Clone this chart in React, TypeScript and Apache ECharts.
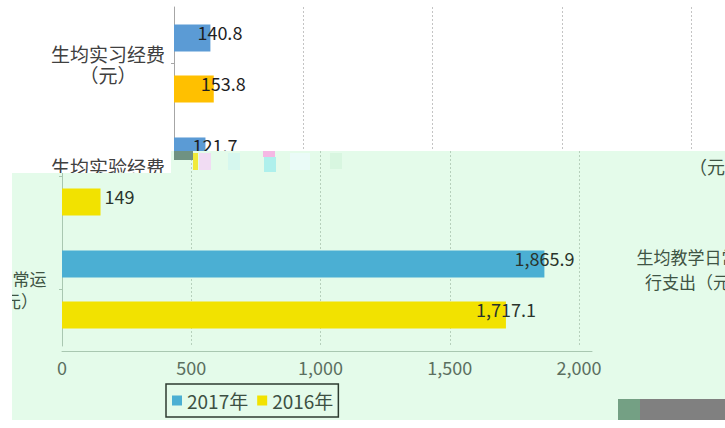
import React, { useEffect, useRef } from 'react';
import * as echarts from 'echarts';

const categories = ['生均实习经费\n（元）', '生均实验经费\n（元）', '生均教学日常运\n行支出（元）'];
const seriesNames = ['2017年', '2016年'];
const values2017 = [140.8, 121.7, 1865.9];
const values2016 = [153.8, 149, 1717.1];
const axisMax = 2050;
const axisInterval = 500;

const FONT = '"Noto Sans CJK SC", "Noto Sans", sans-serif';
const GREEN_BG = '#e4fbea';

const fmt = (v: number) => v.toLocaleString('en-US', { maximumFractionDigits: 1 });

function baseOption(left: number, colors: string[], txt: any) {
  return {
    animation: false,
    textStyle: { fontFamily: FONT },
    grid: { left, top: 7, width: 530, height: 339, containLabel: false, outerBoundsMode: 'none' },
    xAxis: {
      type: 'value',
      min: 0,
      max: axisMax,
      interval: axisInterval,
      offset: 5,
      axisLine: { show: true, lineStyle: { color: txt.axis, width: 1 } },
      axisTick: { show: false },
      axisLabel: {
        showMaxLabel: false,
        margin: 7,
        fontSize: 18,
        fontFamily: FONT,
        color: txt.tick,
        formatter: (v: number) => fmt(v),
      },
      splitLine: {
        show: true,
        showMinLine: false,
        showMaxLine: false,
        lineStyle: { color: txt.split, type: [2, 2], width: 1 },
      },
    },
    yAxis: {
      type: 'category',
      inverse: true,
      data: categories,
      offset: 5,
      axisLine: { show: true, lineStyle: { color: txt.axis, width: 1 } },
      axisTick: { show: true, alignWithLabel: true, length: 3, lineStyle: { color: txt.axis } },
      axisLabel: {
        align: 'center',
        margin: txt.labelMargin,
        fontSize: txt.catSize,
        lineHeight: txt.catLine,
        fontFamily: FONT,
        color: txt.cat,
        formatter: txt.catFormatter,
      },
    },
    series: [values2017, values2016].map((vals, si) => ({
      type: 'bar',
      name: seriesNames[si],
      barWidth: 27,
      barGap: '89%',
      z: 2,
      itemStyle: { color: colors[si] },
      label: {
        show: true,
        position: 'right',
        distance: txt.labelDistance,
        offset: txt.labelOffset,
        fontSize: 18,
        fontFamily: FONT,
        color: txt.value,
        textBorderWidth: 0,
        formatter: (p: any) => fmt(p.value),
      },
      data: vals.map((v) =>
        txt.bigLabels && v > 1000
          ? {
              value: v,
              label: {
                position: ['100%', '50%'],
                align: 'center',
                verticalAlign: 'middle',
                offset: [0, -6],
              },
            }
          : v
      ),
    })),
  };
}

export default function App() {
  const refA = useRef<HTMLDivElement>(null);
  const refB = useRef<HTMLDivElement>(null);

  useEffect(() => {
    const a = echarts.init(refA.current!, undefined, { renderer: 'svg' });
    const b = echarts.init(refB.current!, undefined, { renderer: 'svg' });

    const optA: any = baseOption(174, ['#5b9bd5', '#ffc000'], {
      axis: '#a6a6a6',
      tick: '#595959',
      split: '#c4c4c4',
      cat: '#404040',
      catSize: 19,
      catLine: 21,
      labelMargin: 61,
      value: '#1f1f1f',
      labelDistance: 0,
      labelOffset: [-13, -6],
      bigLabels: false,
      catFormatter: (v: string) => v,
    });
    a.setOption(optA);

    const optB: any = baseOption(62, ['#4bafd3', '#f2e200'], {
      axis: '#a9c7b1',
      tick: '#5b6f60',
      split: '#b6d0bc',
      cat: '#3f5444',
      catSize: 17,
      catLine: 22,
      labelMargin: 70,
      value: '#2a342c',
      labelDistance: 4,
      labelOffset: [0, -6],
      bigLabels: true,
      catFormatter: (v: string, i: number) => (i === 2 ? v : ''),
    });
    optB.legend = {
      show: true,
      data: seriesNames,
      left: 166,
      top: 384,
      orient: 'horizontal',
      icon: 'rect',
      itemWidth: 10,
      itemHeight: 10,
      itemGap: 9,
      padding: [7, 5, 7, 6],
      borderColor: '#2d3b30',
      borderWidth: 1.5,
      textStyle: { fontSize: 19, fontFamily: FONT, color: '#3d5043', padding: [0, 0, 0, 0] },
    };
    optB.graphic = [
      { type: 'rect', z: 100, shape: { x: 0, y: 173, width: 12, height: 247 }, style: { fill: '#ffffff' } },
      {
        type: 'text',
        z: 100,
        style: {
          text: '生均教学日常运\n行支出（元）',
          x: 696,
          y: 269,
          align: 'center',
          verticalAlign: 'middle',
          fontSize: 17,
          lineHeight: 25,
          fontFamily: FONT,
          fill: '#3f5444',
        },
      },
      {
        type: 'text',
        z: 100,
        style: {
          text: '（元）',
          x: 689,
          y: 166,
          align: 'left',
          verticalAlign: 'middle',
          fontSize: 18,
          fontFamily: FONT,
          fill: '#3f5444',
        },
      },
      { type: 'rect', z: 100, shape: { x: 174, y: 151, width: 19, height: 9 }, style: { fill: '#6f9282' } },
      { type: 'rect', z: 100, shape: { x: 193, y: 153, width: 5, height: 17 }, style: { fill: '#f1ea3a' } },
      { type: 'rect', z: 100, shape: { x: 199, y: 153, width: 12, height: 17 }, style: { fill: '#f1dcf3' } },
      { type: 'rect', z: 100, shape: { x: 228, y: 153, width: 12, height: 17 }, style: { fill: '#d6f7ee' } },
      { type: 'rect', z: 100, shape: { x: 263, y: 151, width: 12, height: 6 }, style: { fill: '#f5b8e4' } },
      { type: 'rect', z: 100, shape: { x: 264, y: 157, width: 12, height: 15 }, style: { fill: '#aef0ec' } },
      { type: 'rect', z: 100, shape: { x: 290, y: 153, width: 20, height: 17 }, style: { fill: '#eafbf7' } },
      { type: 'rect', z: 100, shape: { x: 330, y: 153, width: 12, height: 16 }, style: { fill: '#d8f6e0' } },
      { type: 'rect', z: 100, shape: { x: 618, y: 399, width: 22, height: 21 }, style: { fill: '#74a084' } },
      { type: 'rect', z: 100, shape: { x: 640, y: 399, width: 85, height: 21 }, style: { fill: '#808080' } },
    ];
    b.setOption(optB);

    return () => {
      a.dispose();
      b.dispose();
    };
  }, []);

  return (
    <div style={{ position: 'absolute', left: 0, top: 0, width: 725, height: 428, overflow: 'hidden', background: '#ffffff' }}>
      <div ref={refA} style={{ position: 'absolute', left: 0, top: 0, width: 725, height: 428 }} />
      <div
        ref={refB}
        style={{
          position: 'absolute',
          left: 0,
          top: 0,
          width: 725,
          height: 428,
          background: GREEN_BG,
          clipPath: 'polygon(12px 173px, 171px 173px, 171px 151px, 725px 151px, 725px 420px, 12px 420px)',
        }}
      />
    </div>
  );
}
